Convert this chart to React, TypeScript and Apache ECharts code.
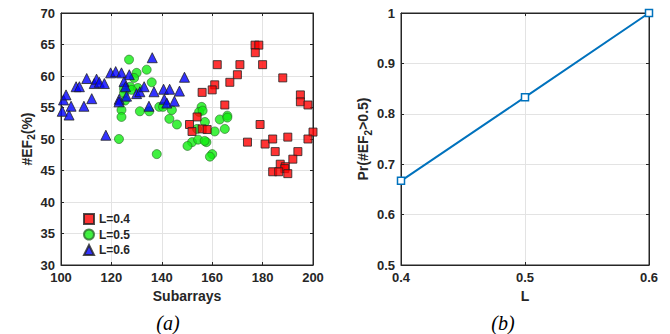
import React, { useEffect, useRef } from "react";
import * as echarts from "echarts";

// L=0.4 (red squares)
const redX = [177, 178.5, 177.1, 162, 171, 180, 170, 188, 167, 161, 160, 156, 165, 195, 195, 198, 154, 151, 152, 156, 158, 179, 174, 181, 184, 190, 200, 198, 185, 194, 192, 187, 189, 188.8, 184, 186.4, 190];
const redY = [64.9, 64.9, 63.7, 61.8, 61.8, 61.8, 60.2, 59.7, 59.0, 58.6, 57.8, 57.4, 55.4, 57.0, 55.9, 55.4, 53.5, 52.3, 51.2, 51.6, 51.5, 52.3, 49.5, 49.2, 50.0, 50.3, 51.1, 50.0, 48.0, 48.0, 46.8, 46.0, 45.6, 45.3, 44.8, 44.8, 44.5];

// L=0.5 (green circles)
const greenX = [127, 134, 130, 129, 136, 125, 127.5, 130.5, 128, 124, 124, 123, 131.3, 135, 139, 140.5, 143, 144, 146, 138, 125.4, 125, 155.8, 154.8, 157.1, 154, 152, 150.2, 154.4, 157.7, 157, 163, 166, 166, 165, 161, 160, 159.1, 156.2];
const greenY = [62.6, 61.0, 60.5, 59.7, 59.0, 58.0, 58.3, 58.1, 57.8, 54.6, 53.5, 50.0, 54.4, 54.4, 55.1, 55.1, 53.2, 54.6, 52.3, 47.6, 56.1, 57.3, 55.1, 54.3, 52.7, 51.6, 49.5, 48.9, 49.9, 49.5, 49.7, 53.1, 53.7, 53.4, 51.6, 51.2, 47.6, 47.2, 54.5];

// L=0.6 (blue triangles)
const blueX = [100.5, 101, 102, 103.2, 104, 106, 107.3, 109.1, 110.2, 112.2, 113.2, 114.1, 115.2, 117.2, 117.8, 119.7, 121.7, 124, 127.1, 123.1, 123, 125, 125.6, 126, 130, 131.3, 133, 136.2, 136.9, 134.9, 140.7, 143.1, 141, 142, 145, 147, 149];
const blueY = [54.4, 56.2, 57.0, 53.8, 55.2, 58.3, 58.3, 55.2, 59.6, 56.4, 58.8, 59.5, 59.0, 58.8, 50.6, 60.5, 60.7, 60.5, 60.2, 56.3, 55.9, 59.1, 58.3, 56.8, 57.2, 57.5, 58.3, 62.9, 57.5, 55.2, 57.9, 57.9, 56.3, 55.7, 56.0, 57.6, 59.8];

// Right panel
const lValues = [0.4, 0.5, 0.6];
const prValues = [0.667, 0.833, 1.0];

const xTicksA = { min: 100, max: 200, interval: 20 };
const yTicksA = { min: 30, max: 70, interval: 5 };
const xTicksB = { min: 0.4, max: 0.6, interval: 0.1 };
const yTicksB = { min: 0.5, max: 1, interval: 0.1 };

const zip = (xs: number[], ys: number[]) => xs.map((x, i) => [x, ys[i]]);

const FONT = "'Liberation Sans', Arial, sans-serif";
const TXT = "#262626";
const GRIDC = "#e3e3e3";

function axisBase(pos: string, show: boolean) {
  return {
    type: "value",
    position: pos,
    axisLine: { show: true, onZero: false, lineStyle: { color: TXT, width: 1 } },
    axisTick: { show: true, inside: true, length: 3, lineStyle: { color: TXT } },
    axisLabel: {
      show,
      color: TXT,
      fontFamily: FONT,
      fontWeight: "bold",
      fontSize: 13,
      margin: 6,
    },
    splitLine: { show, lineStyle: { color: GRIDC, width: 1 } },
  };
}

export default function App() {
  const ref = useRef<HTMLDivElement>(null);
  useEffect(() => {
    document.body.style.margin = "0";
    const chart = echarts.init(ref.current!, null, { renderer: "svg" });
    const nameStyle = (gap: number) => ({
      nameLocation: "middle",
      nameGap: gap,
      nameTextStyle: {
        color: TXT,
        fontFamily: FONT,
        fontWeight: "bold",
        fontSize: 14,
        rich: {
          sub: { fontSize: 10, fontWeight: "bold", fontFamily: FONT, color: TXT, lineHeight: 20, verticalAlign: "bottom" },
        },
      },
    });
    const edge = { borderColor: "#222", borderWidth: 1 };
    chart.setOption({
      animation: false,
      backgroundColor: "#fff",
      grid: [
        { left: 61, right: 357, top: 13, bottom: 69, show: true, borderColor: TXT, borderWidth: 1, backgroundColor: "transparent" },
        { left: 401, right: 21, top: 13, bottom: 69, show: true, borderColor: TXT, borderWidth: 1, backgroundColor: "transparent" },
      ],
      xAxis: [
        { ...axisBase("bottom", true), gridIndex: 0, ...xTicksA, name: "Subarrays", ...nameStyle(24) },
        { ...axisBase("top", false), gridIndex: 0, ...xTicksA },
        {
          ...axisBase("bottom", true),
          gridIndex: 1,
          ...xTicksB,
          name: "L",
          ...nameStyle(24),
          axisLabel: { ...axisBase("bottom", true).axisLabel, formatter: (v: number) => v.toFixed(1) },
        },
        { ...axisBase("top", false), gridIndex: 1, ...xTicksB },
      ],
      yAxis: [
        { ...axisBase("left", true), gridIndex: 0, ...yTicksA, name: "#EF{sub|2}(%)", ...nameStyle(23) },
        { ...axisBase("right", false), gridIndex: 0, ...yTicksA },
        {
          ...axisBase("left", true),
          gridIndex: 1,
          ...yTicksB,
          name: "Pr(#EF{sub|2}>0.5)",
          ...nameStyle(27),
          axisLabel: { ...axisBase("left", true).axisLabel, formatter: (v: number) => (v === 1 ? "1" : v.toFixed(1)) },
        },
        { ...axisBase("right", false), gridIndex: 1, ...yTicksB },
      ],
      legend: {
        orient: "vertical",
        left: 78,
        top: 208,
        itemWidth: 10,
        itemHeight: 10,
        itemGap: 3.5,
        data: ["L=0.4", "L=0.5", "L=0.6"],
        textStyle: { color: TXT, fontFamily: FONT, fontWeight: "bold", fontSize: 12, lineHeight: 12 },
      },
      series: [
        {
          name: "L=0.4",
          type: "scatter",
          xAxisIndex: 0,
          yAxisIndex: 0,
          symbol: "rect",
          symbolSize: 8,
          itemStyle: { color: "#ff0000", ...edge },
          data: zip(redX, redY),
          z: 3,
        },
        {
          name: "L=0.5",
          type: "scatter",
          xAxisIndex: 0,
          yAxisIndex: 0,
          symbol: "circle",
          symbolSize: 9,
          itemStyle: { color: "#11ee11", borderColor: "#2a6a2a", borderWidth: 0.8 },
          data: zip(greenX, greenY),
          z: 2,
        },
        {
          name: "L=0.6",
          type: "scatter",
          xAxisIndex: 0,
          yAxisIndex: 0,
          symbol: "triangle",
          symbolSize: 10,
          itemStyle: { color: "#0000ff", ...edge },
          data: zip(blueX, blueY),
          z: 4,
        },
        {
          name: "Pr",
          type: "line",
          xAxisIndex: 2,
          yAxisIndex: 2,
          symbol: "rect",
          symbolSize: 7,
          showSymbol: true,
          lineStyle: { color: "#0072BD", width: 2 },
          itemStyle: { color: "#ffffff", borderColor: "#0072BD", borderWidth: 1.5 },
          data: zip(lValues, prValues),
        },
      ],
      graphic: [
        {
          type: "text",
          x: 168,
          y: 323,
          style: { text: "(a)", fontFamily: "'Liberation Serif', 'Times New Roman', serif", fontStyle: "italic", fontSize: 20, fill: "#000", align: "center", verticalAlign: "middle" },
        },
        {
          type: "text",
          x: 503,
          y: 323,
          style: { text: "(b)", fontFamily: "'Liberation Serif', 'Times New Roman', serif", fontStyle: "italic", fontSize: 20, fill: "#000", align: "center", verticalAlign: "middle" },
        },
      ],
    });
    return () => chart.dispose();
  }, []);
  return <div ref={ref} style={{ width: 670, height: 334 }} />;
}
